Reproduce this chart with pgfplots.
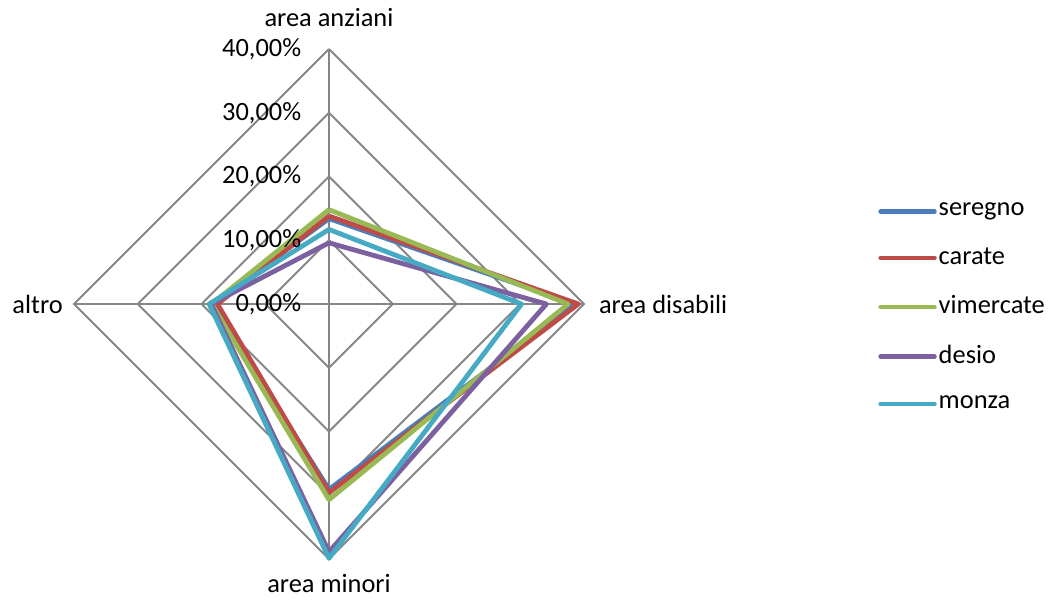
\documentclass[border=0pt]{standalone}
\usepackage{pgfplots}
\pgfplotsset{compat=1.18}
\usepackage{fontspec}
\setmainfont{Carlito}
\definecolor{cSer}{HTML}{4A7EBB}
\definecolor{cCar}{HTML}{BE4B48}
\definecolor{cVim}{HTML}{98B954}
\definecolor{cDes}{HTML}{7D60A0}
\definecolor{cMon}{HTML}{46AAC5}
\definecolor{cGrid}{HTML}{868686}
\begin{document}
\fontsize{13.2}{15}\selectfont
\begin{tikzpicture}
\begin{axis}[
  name=ax,
  scale only axis, width=529.5pt, height=300.5pt,
  xmin=-51.6, xmax=114.5, ymin=-46.6, ymax=47.7,
  hide axis, clip=false,
  legend style={draw=none, fill=none, at={(axis cs:86.1,16.2)}, anchor=north west,
    row sep=11.8pt, font=\fontsize{13.2}{15}\selectfont, inner sep=0pt,
    nodes={inner sep=1pt}},
  legend cell align=left,
  legend image code/.code={\draw[#1, line width=2.2pt, line cap=round] (0pt,0pt) -- (27pt,0pt);},
]
% grid
\addplot[cGrid, line width=1pt, forget plot] coordinates {(0,10) (10,0) (0,-10) (-10,0) (0,10)};
\addplot[cGrid, line width=1pt, forget plot] coordinates {(0,20) (20,0) (0,-20) (-20,0) (0,20)};
\addplot[cGrid, line width=1pt, forget plot] coordinates {(0,30) (30,0) (0,-30) (-30,0) (0,30)};
\addplot[cGrid, line width=1pt, forget plot] coordinates {(0,40) (40,0) (0,-40) (-40,0) (0,40)};
\addplot[cGrid, line width=1pt, forget plot] coordinates {(0,40) (0,-40)};
\addplot[cGrid, line width=1pt, forget plot] coordinates {(-40,0) (40,0)};
% series: (0,anziani) (disabili,0) (0,-minori) (-altro,0)
\addplot[cSer, line width=2.4pt, line join=round] coordinates {(0,13.4) (38.6,0) (0,-29.1) (-18.3,0) (0,13.4)};
\addlegendentry{seregno}
\addplot[cCar, line width=2.4pt, line join=round] coordinates {(0,13.8) (39.1,0) (0,-29.6) (-17.5,0) (0,13.8)};
\addlegendentry{carate}
\addplot[cVim, line width=2.4pt, line join=round] coordinates {(0,14.8) (37.5,0) (0,-30.7) (-18.4,0) (0,14.8)};
\addlegendentry{vimercate}
\addplot[cDes, line width=2.4pt, line join=round] coordinates {(0,9.6) (34.1,0) (0,-38.9) (-18.5,0) (0,9.6)};
\addlegendentry{desio}
\addplot[cMon, line width=2.4pt, line join=round] coordinates {(0,11.7) (30.2,0) (0,-39.9) (-18.8,0) (0,11.7)};
\addlegendentry{monza}
% value labels
\node[anchor=east, inner sep=0pt] at (axis cs:-4.3,40) {40,00\%};
\node[anchor=east, inner sep=0pt] at (axis cs:-4.3,30) {30,00\%};
\node[anchor=east, inner sep=0pt] at (axis cs:-4.3,20) {20,00\%};
\node[anchor=east, inner sep=0pt] at (axis cs:-4.3,10) {10,00\%};
\node[anchor=east, inner sep=0pt] at (axis cs:-4.3,0) {0,00\%};
% category labels
\node[anchor=base, inner sep=0pt] at (axis cs:0,43.6) {area anziani};
\node[anchor=west, inner sep=0pt] at (axis cs:42.3,0) {area disabili};
\node[anchor=base, inner sep=0pt] at (axis cs:0,-45.3) {area minori};
\node[anchor=east, inner sep=0pt] at (axis cs:-41.7,0) {altro};
\end{axis}
\pgfresetboundingbox
\path (ax.south west) rectangle (ax.north east);
\end{tikzpicture}
\end{document}
